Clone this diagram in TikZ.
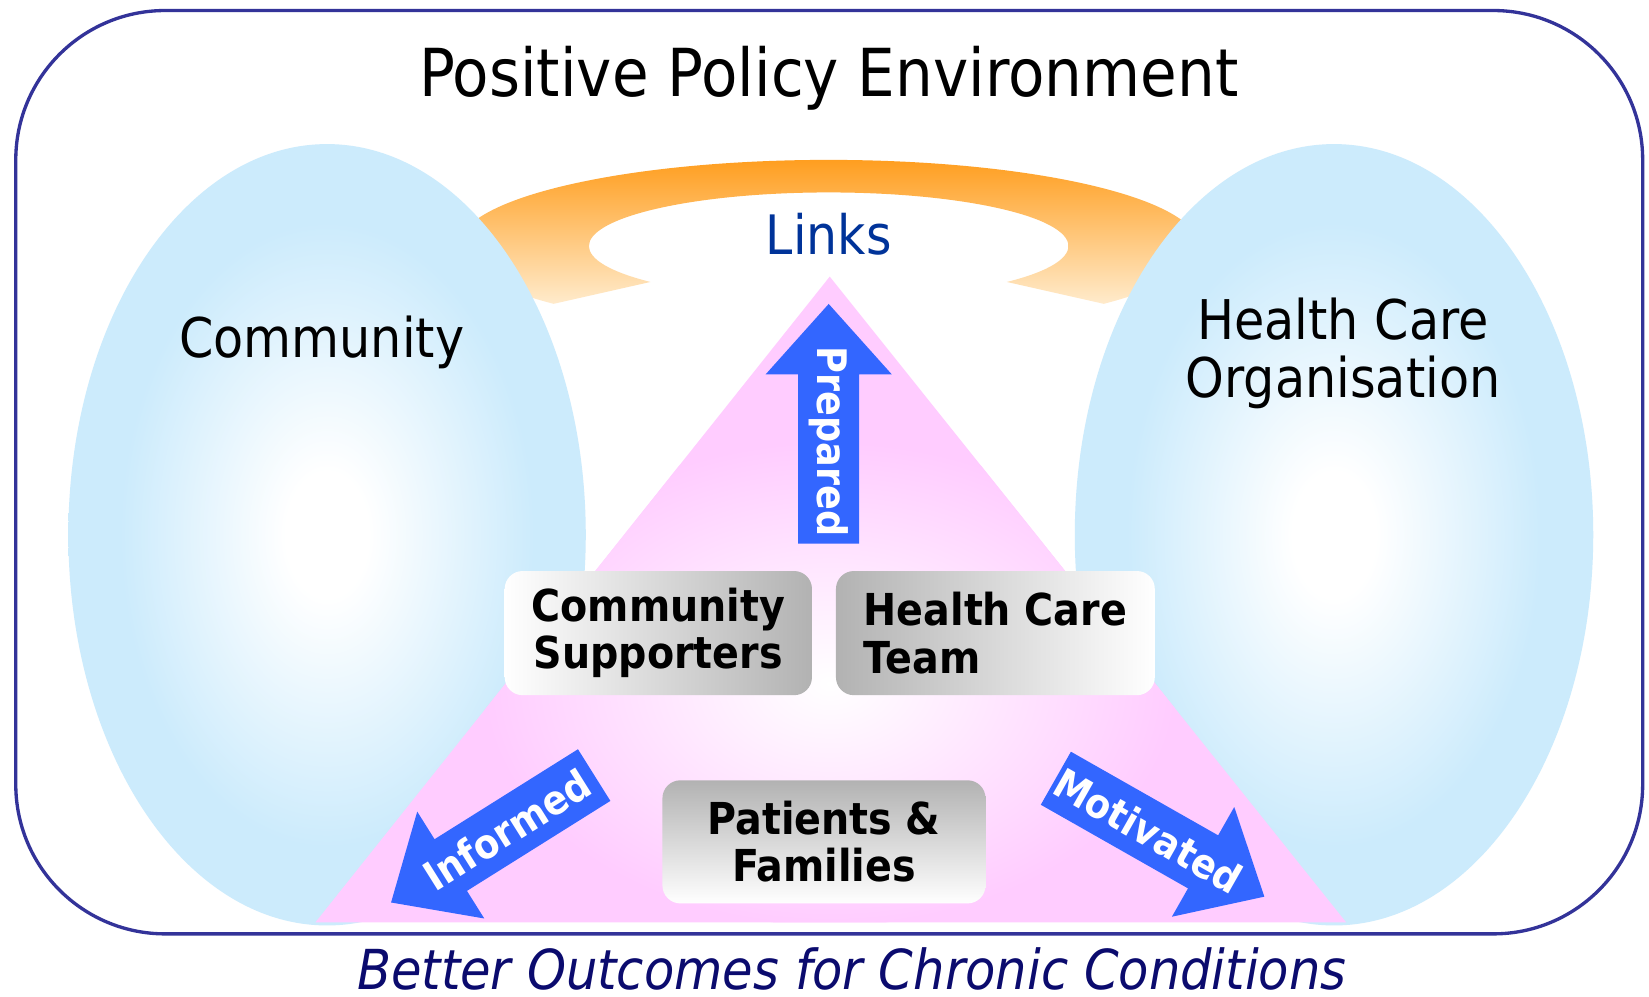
\documentclass[tikz,border=0pt]{standalone}
\usepackage{fontspec}
\setmainfont{DejaVu Sans}[FakeStretch=0.9, BoldFont={DejaVu Sans Bold}, ItalicFont={DejaVu Sans Oblique}]
\definecolor{ellblue}{HTML}{CCEBFC}
\definecolor{tripink}{HTML}{FFCCFF}
\definecolor{arrowblue}{HTML}{3366FF}
\definecolor{orangetop}{HTML}{FF9914}
\definecolor{orangebot}{HTML}{FFEBCC}
\definecolor{frameblue}{HTML}{333399}
\definecolor{linksblue}{HTML}{003399}
\definecolor{navy}{HTML}{0B0B6E}
\definecolor{boxgray}{HTML}{B2B2B2}
\pgfdeclareradialshading{ellglow}{\pgfpoint{0bp}{0bp}}{color(0bp)=(white); color(4bp)=(white); color(20bp)=(ellblue); color(25bp)=(ellblue); color(50bp)=(ellblue)}
\tikzset{
  box/.style={rounded corners=0.17cm, inner sep=0pt, align=center, text=black,
    font=\bfseries\fontsize{11.9}{12.8}\selectfont},
  biglabel/.style={text=black, font=\fontsize{14.8}{15.9}\selectfont, align=center, inner sep=0pt},
  arrowlabel/.style={text=white, font=\bfseries\fontsize{11}{12}\selectfont, inner sep=0pt},
  blockarrow/.pic={\fill[arrowblue] (0,-29) -- (161,-29) -- (161,-60) -- (228,0) -- (161,60) -- (161,29) -- (0,29) -- cycle;}
}
\begin{document}
\begin{tikzpicture}[x=0.01cm, y=-0.01cm]
\useasboundingbox (0,0) rectangle (1568,948);
\fill[white] (0,0) rectangle (1568,948);
% outer frame
\draw[frameblue, line width=0.9pt, rounded corners=1.42cm] (15,10) rectangle (1562,888);
% links band
\shade[top color=orangetop, bottom color=orangebot]
  (526.4,288.9) arc[start angle=138, end angle=402, x radius=352, y radius=82]
  -- (957.4,268.1) arc[start angle=42, end angle=-222, x radius=228, y radius=51] -- cycle;
% ellipses
\shade[shading=ellglow] (311,508.5) ellipse [x radius=246, y radius=371.5];
\shade[shading=ellglow] (1268.5,508.5) ellipse [x radius=246.5, y radius=371.5];
% triangle
\begin{scope}
  \clip (789,263) -- (1280,877) -- (300,877) -- cycle;
  \fill[tripink] (0,0) rectangle (1568,948);
  \shade[inner color=white, outer color=tripink] (789,650) ellipse [x radius=330, y radius=230];
\end{scope}
% boxes
\node[box, left color=white, right color=boxgray, minimum width=2.92cm, minimum height=1.18cm] (cs) at (626,602) {\raisebox{-3pt}{}Community\\Supporters};
\node[box, left color=boxgray, right color=white, minimum width=3.03cm, minimum height=1.18cm, align=left] (hct) at (946.5,602) {Health Care\\Team};
\node[box, top color=boxgray, bottom color=white, minimum width=3.07cm, minimum height=1.17cm] (pf) at (783.5,800.5) {Patients \&\\Families};
% arrows
\pic[rotate=90] at (788,517) {blockarrow};
\pic[rotate=212.1] at (565,737) {blockarrow};
\pic[rotate=-29.6] at (1004,740) {blockarrow};
\node[arrowlabel, rotate=-90] (prep) at (788,420) {Prepared};
\node[arrowlabel, rotate=32.1] (inf) at (482,789) {Informed};
\node[arrowlabel, rotate=-29.6] (mot) at (1092,790) {Motivated};
% texts
\node[anchor=base, text=black, font=\fontsize{17.9}{20}\selectfont, inner sep=0pt] (title) at (788,92) {Positive Policy Environment};
\node[anchor=base, text=linksblue, font=\fontsize{14.7}{16}\selectfont, inner sep=0pt] (links) at (788,242) {Links};
\node[biglabel, anchor=base] (comm) at (306,340) {Community};
\node[biglabel] (hco) at (1277,336) {Health Care\\Organisation};
\node[anchor=base, text=navy, font=\itshape\fontsize{14.9}{16}\selectfont, inner sep=0pt] (outc) at (810,941) {Better Outcomes for Chronic Conditions};
\end{tikzpicture}
\end{document}
